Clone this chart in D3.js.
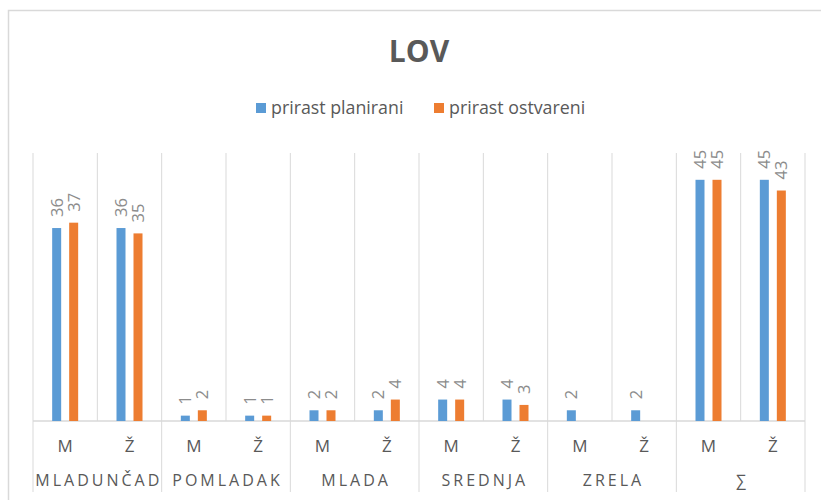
<!DOCTYPE html>
<html>
<head>
<meta charset="utf-8">
<script src="https://cdn.jsdelivr.net/npm/d3@7"></script>
<style>
  html, body { margin: 0; padding: 0; background: #fff; }
  svg { display: block; font-family: "Open Sans", "DejaVu Sans", sans-serif; }
</style>
</head>
<body>
<svg id="chart" width="821" height="500"></svg>
<script>
// Age classes and sex sub-categories
const groups = ["MLADUNČAD", "POMLADAK", "MLADA", "SREDNJA", "ZRELA", "∑"];
const sexes = ["M", "Ž"];
const seriesNames = ["prirast planirani", "prirast ostvareni"];
const seriesColors = ["#5b9bd5", "#ed7d31"];

// Values per group, M then Ž
const planirani = [36, 36, 1, 1, 2, 2, 4, 4, 2, 2, 45, 45];
const ostvareni = [37, 35, 2, 1, 2, 4, 4, 3, null, null, 45, 43];

const yTicks = [0, 50];

const svg = d3.select("#chart");
const W = 821, H = 500;

// chart frame
svg.append("rect")
  .attr("x", 8.5).attr("y", 10.5)
  .attr("width", W + 20).attr("height", H + 20)
  .attr("fill", "#fff")
  .attr("stroke", "#d9d9d9").attr("stroke-width", 1.5);

const plot = { left: 33, right: 805, top: 153, bottom: 421 };

// flat category list
const cats = [];
groups.forEach((g, gi) => sexes.forEach((s, si) => {
  cats.push({ group: g, sex: s, idx: gi * sexes.length + si });
}));

const x0 = d3.scaleBand()
  .domain(cats.map(c => c.idx))
  .range([plot.left, plot.right])
  .padding(0);

const pi = 8 / 17;
const x1 = d3.scaleBand()
  .domain(seriesNames)
  .range([0, x0.bandwidth()])
  .paddingInner(pi);
// outer padding so the pair sits centred with a 17px step
const step = 17;
const po = (x0.bandwidth() / step - 2 + pi) / 2;
x1.paddingOuter(po);

const y = d3.scaleLinear().domain(d3.extent(yTicks)).range([plot.bottom, plot.top]);

// vertical gridlines at category boundaries
const boundaries = d3.range(cats.length + 1).map(i => plot.left + i * x0.step());
svg.append("g").selectAll("line")
  .data(boundaries)
  .join("line")
  .attr("x1", d => d).attr("x2", d => d)
  .attr("y1", plot.top)
  .attr("y2", (d, i) => (i % sexes.length === 0) ? 492 : plot.bottom)
  .attr("stroke", "#d9d9d9").attr("stroke-width", 1);

// category axis line
svg.append("line")
  .attr("x1", plot.left).attr("x2", plot.right)
  .attr("y1", plot.bottom).attr("y2", plot.bottom)
  .attr("stroke", "#d9d9d9").attr("stroke-width", 1.5);

// bars
const seriesData = [planirani, ostvareni];
const barData = [];
cats.forEach(c => seriesNames.forEach((s, si) => {
  const v = seriesData[si][c.idx];
  if (v !== null && v !== undefined) barData.push({ cat: c.idx, series: s, si, value: v });
}));

svg.append("g").selectAll("rect")
  .data(barData)
  .join("rect")
  .attr("x", d => x0(d.cat) + x1(d.series))
  .attr("y", d => y(d.value))
  .attr("width", x1.bandwidth())
  .attr("height", d => y(0) - y(d.value))
  .attr("fill", d => seriesColors[d.si]);

// value labels, rotated
svg.append("g").selectAll("text")
  .data(barData)
  .join("text")
  .attr("transform", d => {
    const cx = x0(d.cat) + x1(d.series) + x1.bandwidth() / 2;
    return `translate(${cx},${y(d.value) - 11}) rotate(-90)`;
  })
  .attr("dy", "0.36em")
  .attr("text-anchor", "start")
  .attr("font-size", 16.5)
  .attr("fill", "#8c8c8c")
  .text(d => d.value);

// sex tick labels
svg.append("g").selectAll("text")
  .data(cats)
  .join("text")
  .attr("x", d => x0(d.idx) + x0.bandwidth() / 2)
  .attr("y", 452)
  .attr("text-anchor", "middle")
  .attr("font-size", 17)
  .attr("fill", "#595959")
  .text(d => d.sex);

// group labels
const ls = 3;
svg.append("g").selectAll("text")
  .data(groups)
  .join("text")
  .attr("x", (d, i) => plot.left + (i + 0.5) * sexes.length * x0.step() + ls / 2)
  .attr("y", 486)
  .attr("text-anchor", "middle")
  .attr("font-size", 16)
  .attr("letter-spacing", ls)
  .attr("fill", "#595959")
  .text(d => d);

// title
svg.append("text")
  .attr("x", 419).attr("y", 62)
  .attr("text-anchor", "middle")
  .attr("font-size", 30)
  .attr("font-weight", "bold")
  .attr("fill", "#595959")
  .text("LOV");

// legend
const legendX = [256, 434];
const lg = svg.append("g").selectAll("g")
  .data(seriesNames)
  .join("g")
  .attr("transform", (d, i) => `translate(${legendX[i]},103)`);
lg.append("rect")
  .attr("width", 10).attr("height", 10)
  .attr("fill", (d, i) => seriesColors[i]);
lg.append("text")
  .attr("x", 15).attr("y", 5)
  .attr("dy", "0.35em")
  .attr("font-size", 17.8)
  .attr("fill", "#595959")
  .text(d => d);
</script>
</body>
</html>
